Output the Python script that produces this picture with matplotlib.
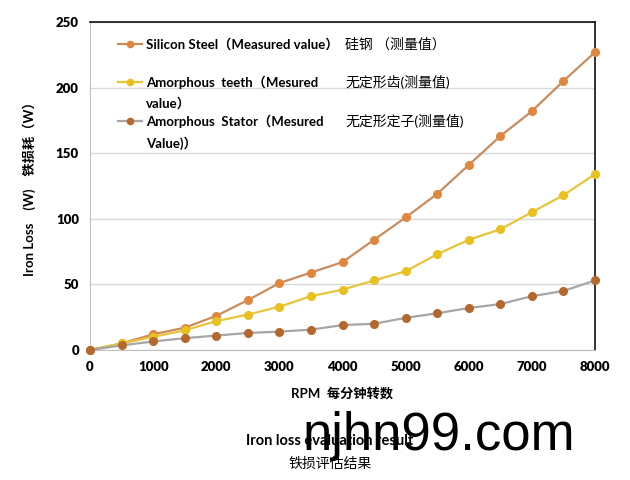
import matplotlib
matplotlib.use("Agg")
import matplotlib.pyplot as plt
from matplotlib.lines import Line2D

plt.rcParams['font.family'] = ['Lato', 'Noto Sans CJK SC', 'DejaVu Sans']

rpm = [0, 500, 1000, 1500, 2000, 2500, 3000, 3500, 4000, 4500, 5000, 5500, 6000, 6500, 7000, 7500, 8000]
silicon = [0, 5, 12, 17, 26, 38, 51, 59, 67, 84, 101, 119, 141, 163, 182, 205, 227]
teeth = [0, 5, 10, 15, 22, 27, 33, 41, 46, 53, 60, 73, 84, 92, 105, 118, 134]
stator = [0, 3.5, 6.5, 9, 11, 13, 14, 15.5, 19, 20, 24.5, 28, 32, 35, 41, 45, 53]

x_ticks = [0, 1000, 2000, 3000, 4000, 5000, 6000, 7000, 8000]
y_ticks = [0, 50, 100, 150, 200, 250]

labels_en = ["Silicon Steel（Measured value）", "Amorphous  teeth（Mesured\nvalue）",
             "Amorphous  Stator（Mesured\nValue)）"]
labels_cn = ["硅钢 （测量值）", "无定形齿(测量值)", "无定形定子(测量值)"]

W, H = 630, 480
fig = plt.figure(figsize=(6.3, 4.8), dpi=100)
ax = fig.add_axes([90 / W, 1 - 350 / H, (595 - 90) / W, (350 - 22) / H])

series = [
    (silicon, '#C98C5E', '#E0873F'),
    (teeth, '#E8C43A', '#E8C020'),
    (stator, '#A6A6A6', '#B5682E'),
]
for vals, lc, mc in series:
    ax.plot(rpm, vals, color=lc, lw=1.6, marker='o', ms=5.5,
            markerfacecolor=mc, markeredgecolor=mc, zorder=3, clip_on=False)

ax.set_xlim(0, 8000)
ax.set_ylim(0, 250)
ax.set_xticks(x_ticks)
ax.set_yticks(y_ticks)
ax.set_xticklabels([str(v) for v in x_ticks], fontweight='heavy', fontsize=9.5)
ax.set_yticklabels([str(v) for v in y_ticks], fontweight='heavy', fontsize=9.5)
ax.tick_params(length=0, pad=8)
ax.grid(axis='y', color='#D9D9D9', lw=1)
ax.set_axisbelow(True)
for s in ['left', 'bottom']:
    ax.spines[s].set_color('#BFBFBF')
for s in ['top', 'right']:
    ax.spines[s].set_color('#111111')
    ax.spines[s].set_linewidth(1.2)

ax.set_xlabel("RPM  每分钟转数", fontsize=9.5, fontweight='bold', labelpad=10)
ax.set_ylabel("Iron Loss    (W)    铁损耗（W）", fontsize=9.5, fontweight='bold', labelpad=14)

# legend (manual)
rows = [44, 82, 121]
for (vals, lc, mc), y, en, cn in zip(series, rows, labels_en, labels_cn):
    fy = 1 - y / H
    fig.add_artist(Line2D([118 / W, 142 / W], [fy, fy], color=lc, lw=1.6,
                          transform=fig.transFigure))
    fig.add_artist(Line2D([130 / W], [fy], color=mc, marker='o', ms=4.5,
                          transform=fig.transFigure))
    fig.text(146 / W, fy + 6 / H, en, fontsize=9.5, fontweight='bold', va='top',
             linespacing=1.75)
    fig.text(345 / W, fy, cn, fontsize=10, va='center')

fig.text(330 / W, 1 - 441 / H, "Iron loss evaluation result", fontsize=10.5, fontweight='bold',
         ha='center', va='center')
fig.text(330 / W, 1 - 463 / H, "铁损评估结果", fontsize=10, ha='center', va='center')
fig.text(439 / W, 1 - 436 / H, "njhn99.com", fontsize=38, ha='center', va='center',
         family='Liberation Sans', color='black')

fig.savefig("out.png", dpi=100)
